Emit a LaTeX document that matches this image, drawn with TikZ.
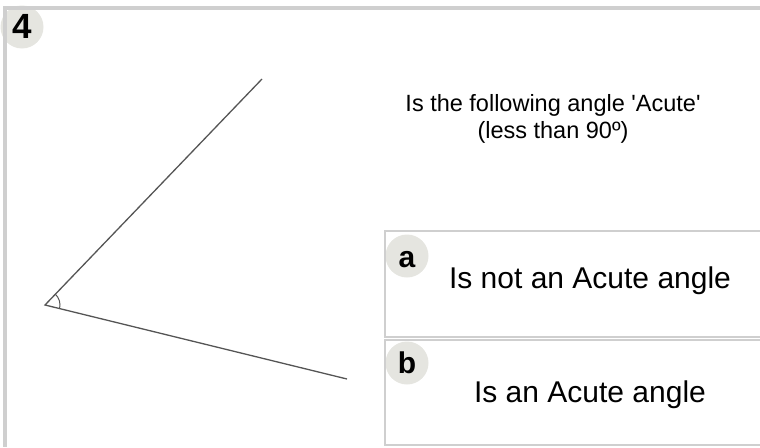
\documentclass[tikz,border=0pt]{standalone}
\usepackage{fontspec}
\setmainfont{Liberation Sans}
\usetikzlibrary{arrows,positioning}
\definecolor{framegray}{HTML}{CFCFCF}
\definecolor{badgegray}{HTML}{E5E5E0}
\definecolor{inkgray}{HTML}{555555}

\begin{document}
\begin{tikzpicture}[x=1pt,y=-1pt,
    badge/.style={circle,fill=badgegray,inner sep=0pt,minimum size=43pt},
    letter/.style={anchor=base,font=\bfseries\fontsize{30}{30}\selectfont},
    answer/.style={anchor=base,font=\fontsize{30}{30}\selectfont},
    question/.style={anchor=base,font=\fontsize{23.5}{23.5}\selectfont},
    box line/.style={draw=framegray,line width=2pt},
    ray/.style={draw=inkgray,line width=1.3pt}]
    \useasboundingbox (0,0) rectangle (760,447);

    \node[badge] (b4) at (22,27) {};
    \node[badge] (ba) at (407,256) {};
    \node[badge] (bb) at (407,363) {};
    \fill[framegray] (3,6) rectangle (760,10);
    \fill[framegray] (3,6) rectangle (7,447);

    \node[letter,font=\bfseries\fontsize{35}{35}\selectfont] (n4) at (22,38) {4};
    \node[question] (q1) at (553,111) {Is the following angle \textquotesingle Acute\textquotesingle};
    \node[question] (q2) at (553,138) {(less than 90º)};

    \draw[box line] (385,231) rectangle (764,337);
    \draw[box line] (385,340) rectangle (764,445);
    \node[letter] (la) at (407,267) {a};
    \node[letter] (lb) at (407,373) {b};
    \node[answer] (ta) at (590,288) {Is not an Acute angle};
    \node[answer] (tb) at (590,402) {Is an Acute angle};

    \coordinate (v) at (45,305);
    \coordinate (up) at (262,79);
    \coordinate (low) at (347,379);
    \draw[ray] (up) -- (v) -- (low);
    \draw[ray,line width=1pt] (v) ++(-46.2:15) arc[start angle=-46.2,end angle=13.8,radius=15];
\end{tikzpicture}
\end{document}
